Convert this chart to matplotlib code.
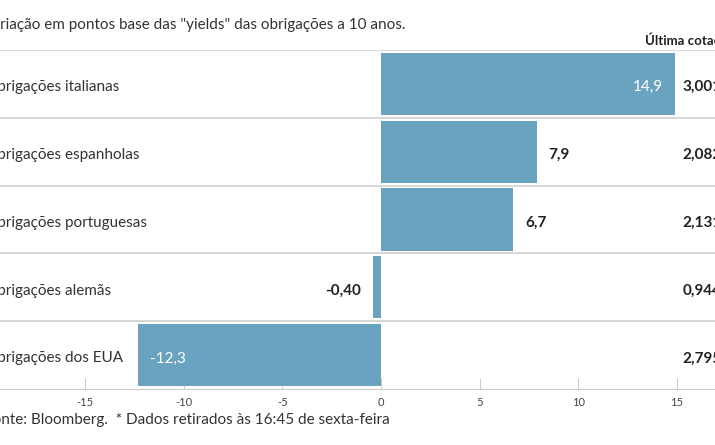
import matplotlib
matplotlib.use("Agg")
import matplotlib.pyplot as plt

categories = ["Obrigações italianas", "Obrigações espanholas", "Obrigações portuguesas",
              "Obrigações alemãs", "Obrigações dos EUA"]
values = [14.9, 7.9, 6.7, -0.40, -12.3]
value_labels = ["14,9", "7,9", "6,7", "-0,40", "-12,3"]
last_quote = ["3,001%", "2,082%", "2,131%", "0,9440%", "2,7955%"]
ticks = [-15, -10, -5, 0, 5, 10, 15]

W, H = 715, 445
fig = plt.figure(figsize=(W/100, H/100), dpi=100)
ax = fig.add_axes([0, 1-389/H, 1, (389-50)/H])
x0, x1 = -381/19.73, (715-381)/19.73
ax.set_xlim(x0, x1)
n = len(categories)
ax.set_ylim(n - 0.5, -0.5)
color = "#6aa3bf"
for i, (v, lab) in enumerate(zip(values, value_labels)):
    ax.barh(i, v, height=0.92, color=color, zorder=2)
    if i > 0:
        ax.axhline(i - 0.5, color="#d0d0d0", lw=1.2, zorder=1)
    ax.text(x0 - 0.75, i + 0.05, categories[i], ha="left", va="center", fontsize=11,
            color="#333333", family="Lato", clip_on=False)
    if abs(v) > 10:
        if v > 0:
            ax.text(v - 0.6, i + 0.05, lab, ha="right", va="center", color="white", fontsize=11, family="Lato")
        else:
            ax.text(v + 0.6, i + 0.05, lab, ha="left", va="center", color="white", fontsize=11, family="Lato")
    else:
        if v > 0:
            ax.text(v + 0.6, i + 0.05, lab, ha="left", va="center", color="#222222", fontsize=11, family="Lato", weight="bold")
        else:
            ax.text(v - 0.6, i + 0.05, lab, ha="right", va="center", color="#222222", fontsize=11, family="Lato", weight="bold")
    ax.text(15.3, i + 0.05, last_quote[i], ha="left", va="center", color="#222222", fontsize=11,
            family="Lato", weight="bold", clip_on=False)
ax.axhline(-0.5, color="#d0d0d0", lw=1.2)
for s in ["top", "right", "left"]:
    ax.spines[s].set_visible(False)
ax.spines["bottom"].set_color("#cccccc")
ax.set_yticks([])
ax.set_xticks(ticks)
ax.set_xticklabels([str(t) for t in ticks], fontsize=8, color="#444444", family="Lato")
ax.tick_params(axis="x", direction="in", length=8, color="#cccccc", pad=6)

fig.text(-18/W, 1-25/H, 'Variação em pontos base das "yields" das obrigações a 10 anos.',
         fontsize=11, color="#333333", family="Lato", va="center")
fig.text(645/W, 1-40/H, "Última cotação", fontsize=9.5, weight="bold", color="#222222",
         family="Lato", va="center")
fig.text(-16/W, 1-420/H, "Fonte: Bloomberg.  * Dados retirados às 16:45 de sexta-feira",
         fontsize=11, color="#333333", family="Lato", va="center")
fig.savefig("out.png", dpi=100, facecolor="white")
